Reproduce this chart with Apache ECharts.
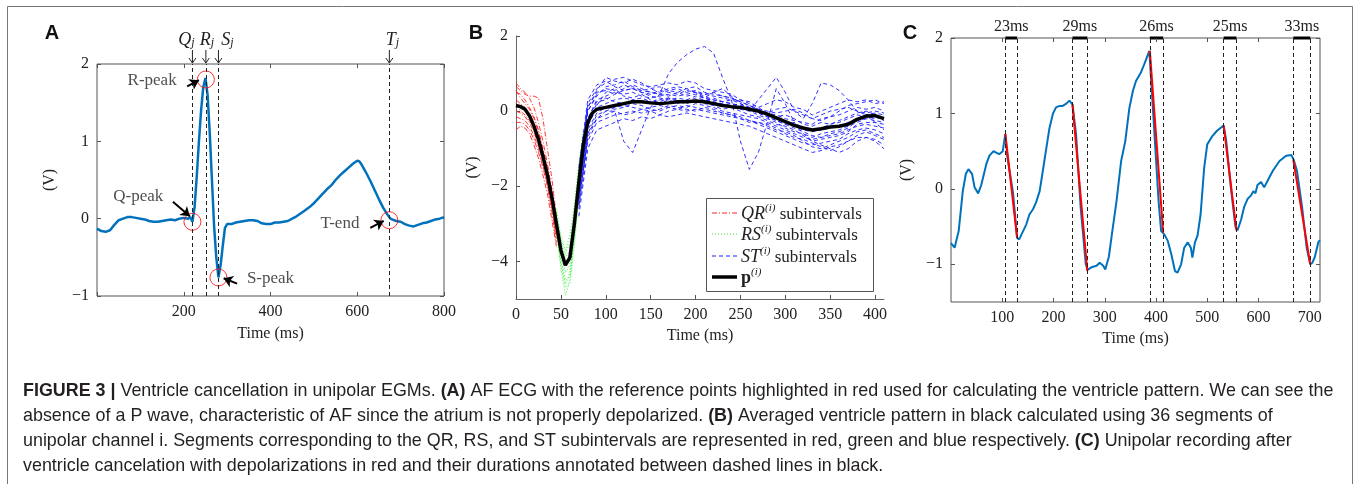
<!DOCTYPE html>
<html>
<head>
<meta charset="utf-8">
<script src="https://cdn.jsdelivr.net/npm/echarts@6/dist/echarts.min.js"></script>
<style>
html, body { margin: 0; padding: 0; background: #fff; }
#chart { width: 1360px; height: 484px; }
</style>
</head>
<body>
<div id="chart"></div>
<script>
// ---------- panel A : AF ECG ----------
var ecgTime = [0,10,20,30,40,50,60,70,80,90,100,110,120,130,140,150,160,170,180,190,200,210,
  215,220,225,230,235,240,245,250,255,260,265,270,275,280,285,290,295,
  300,310,320,330,340,350,360,370,380,390,400,410,420,430,440,450,460,470,480,490,500,510,520,530,540,550,560,570,580,590,600,
  605,610,620,630,640,650,660,670,675,680,690,700,710,720,730,740,750,760,770,780,790,800];
var ecgVolt = [-0.13,-0.16,-0.17,-0.15,-0.08,-0.02,0.0,0.02,0.02,0.01,0.0,-0.01,-0.03,-0.04,-0.04,-0.03,-0.02,-0.01,-0.02,0.0,0.01,0.0,
  0.02,-0.04,0.15,0.55,1.0,1.4,1.7,1.82,1.6,1.1,0.5,-0.1,-0.5,-0.76,-0.6,-0.35,-0.12,
  -0.07,-0.07,-0.05,-0.04,-0.03,-0.02,-0.02,-0.03,-0.06,-0.07,-0.07,-0.05,-0.05,-0.04,-0.03,0.0,0.03,0.07,0.11,0.15,0.2,0.26,0.32,0.38,0.43,0.5,0.56,0.61,0.66,0.71,0.75,
  0.74,0.7,0.6,0.49,0.37,0.25,0.14,0.05,0.01,-0.01,-0.03,-0.04,-0.07,-0.09,-0.1,-0.08,-0.06,-0.05,-0.03,-0.01,0.0,0.02];
var refTimes = [220, 251, 280, 674];          // Q_j R_j S_j T_j
var refNames = ['Q', 'R', 'S', 'T'];
var peakTime = [220, 251, 280, 674];
var peakVolt = [-0.04, 1.8, -0.76, -0.02];

// ---------- panel B : ventricle pattern ----------
var meanTime = [0,5,10,15,20,25,30,35,40,45,50,55,60,65,70,75,80,85,90,
  100,110,120,130,140,150,160,170,180,190,200,210,220,230,240,250,260,270,280,290,300,310,320,330,340,350,360,370,380,390,400,410];
var meanVolt = [0.15,0.12,0.05,-0.12,-0.4,-0.75,-1.2,-1.7,-2.3,-3.0,-3.7,-4.1,-3.9,-3.0,-1.9,-0.9,-0.3,-0.05,0.05,
  0.1,0.15,0.2,0.25,0.25,0.22,0.2,0.22,0.25,0.25,0.27,0.25,0.2,0.15,0.12,0.1,0.05,0.0,-0.08,-0.18,-0.28,-0.38,-0.45,-0.5,-0.47,-0.42,-0.4,-0.35,-0.22,-0.13,-0.12,-0.2];

var qrTime = [0,5,10,15,20,25,30,35,40,45];
var qrTraces = [
  [0.75,0.6,0.5,0.35,0.1,-0.3,-0.8,-1.4,-2.1,-2.9],
  [0.5,0.45,0.3,0.1,-0.15,-0.5,-1.0,-1.5,-2.2,-3.0],
  [0.3,0.2,0.1,-0.1,-0.35,-0.7,-1.1,-1.6,-2.3,-3.2],
  [0.0,-0.05,-0.15,-0.3,-0.55,-0.9,-1.35,-1.85,-2.5,-3.3],
  [-0.3,-0.3,-0.35,-0.5,-0.75,-1.1,-1.5,-2.0,-2.7,-3.5],
  [-0.5,-0.4,-0.45,-0.6,-0.9,-1.25,-1.7,-2.2,-2.9,-3.6],
  [0.65,0.55,0.45,0.4,0.4,0.35,-0.2,-1.0,-1.8,-2.8],
  [0.2,0.0,-0.1,-0.25,-0.45,-0.75,-1.2,-1.75,-2.4,-3.1],
  [0.55,0.35,0.2,0.05,-0.2,-0.55,-1.05,-1.6,-2.3,-3.1],
  [-0.15,-0.2,-0.25,-0.4,-0.65,-1.0,-1.45,-1.95,-2.6,-3.4]
];

var rsTime = [45,50,55,60,65,70,75];
var rsTraces = [
  [-3.0,-4.2,-4.9,-4.5,-3.3,-2.0,-1.0],
  [-3.2,-4.0,-4.6,-4.3,-3.2,-2.1,-1.1],
  [-2.9,-3.7,-4.3,-4.1,-3.1,-1.9,-0.8],
  [-2.7,-3.5,-3.9,-3.7,-2.8,-1.6,-0.7],
  [-3.3,-4.1,-4.7,-4.6,-3.6,-2.3,-1.2],
  [-2.8,-3.4,-3.8,-3.5,-2.6,-1.5,-0.6],
  [-3.1,-3.9,-4.5,-4.4,-3.4,-2.2,-1.1],
  [-2.6,-3.3,-3.7,-3.3,-2.5,-1.4,-0.5]
];

var stTime = [70,80,90,100,110,120,130,140,150,160,170,180,190,200,210,220,230,240,250,260,270,280,290,300,310,320,330,340,350,360,370,380,390,400,410];
var stTraces = [
  [-1.6,0.2,0.6,0.75,0.85,0.9,0.8,0.7,0.65,0.7,0.75,0.7,0.8,0.75,0.6,0.55,0.5,0.45,0.3,0.25,0.1,0.2,0.3,0.25,0.1,0.05,-0.1,0.0,0.1,0.2,0.3,0.25,0.3,0.2,0.25],
  [-1.8,0.0,0.45,0.6,0.55,0.7,0.6,0.55,0.5,0.45,0.55,0.6,0.5,0.55,0.45,0.4,0.35,0.3,0.3,0.2,0.1,-0.05,-0.1,-0.2,-0.25,-0.3,-0.35,-0.2,-0.15,-0.1,0.0,0.1,0.05,0.1,0.0],
  [-2.0,-0.2,0.3,0.4,0.5,0.45,0.5,0.4,0.35,0.4,0.45,0.4,0.45,0.5,0.4,0.3,0.25,0.2,0.15,0.1,0.05,-0.1,-0.2,-0.3,-0.4,-0.5,-0.55,-0.5,-0.45,-0.4,-0.3,-0.2,-0.1,-0.05,-0.1],
  [-2.2,-0.4,0.1,0.2,0.3,0.35,0.3,0.25,0.2,0.3,0.35,0.3,0.25,0.35,0.3,0.25,0.15,0.1,0.05,0.0,-0.1,-0.2,-0.3,-0.45,-0.55,-0.6,-0.7,-0.6,-0.55,-0.5,-0.4,-0.3,-0.2,-0.25,-0.3],
  [-2.4,-0.6,-0.1,0.0,0.1,0.15,0.1,0.05,0.1,0.15,0.1,0.15,0.1,0.2,0.15,0.1,0.0,-0.05,-0.1,-0.15,-0.2,-0.3,-0.4,-0.5,-0.6,-0.7,-0.75,-0.7,-0.65,-0.6,-0.5,-0.4,-0.35,-0.4,-0.45],
  [-2.6,-0.8,-0.3,-0.2,-0.1,-0.05,0.0,-0.05,0.0,-0.1,0.0,0.05,0.0,0.05,0.0,-0.05,-0.1,-0.15,-0.2,-0.25,-0.35,-0.45,-0.55,-0.65,-0.75,-0.85,-0.9,-0.85,-0.8,-0.75,-0.6,-0.5,-0.45,-0.5,-0.6],
  [-1.5,0.3,0.7,0.8,0.65,0.55,0.6,0.5,0.45,0.55,0.5,0.45,0.55,0.5,0.35,0.3,0.25,0.3,0.2,0.1,0.0,-0.1,-0.15,-0.1,-0.2,-0.35,-0.4,-0.3,-0.35,-0.25,-0.15,-0.05,0.0,-0.1,-0.2],
  [-2.1,-0.3,0.2,0.35,0.25,0.2,0.3,0.35,0.25,0.2,0.3,0.2,0.3,0.25,0.2,0.15,0.05,0.1,0.0,-0.1,-0.15,-0.25,-0.35,-0.4,-0.5,-0.65,-0.8,-0.75,-0.7,-0.65,-0.55,-0.35,-0.3,-0.3,-0.35],
  [-2.8,-1.0,-0.5,-0.4,-0.3,-0.2,-0.25,-0.15,-0.2,-0.1,-0.15,-0.1,-0.05,-0.1,-0.15,-0.2,-0.25,-0.3,-0.35,-0.4,-0.5,-0.6,-0.7,-0.8,-0.9,-1.0,-1.1,-1.05,-0.95,-0.9,-0.8,-0.7,-0.7,-0.75,-0.9],
  [-1.7,0.1,0.5,0.55,0.45,0.6,0.7,0.6,0.5,0.45,0.4,0.5,0.4,0.45,0.35,0.25,0.2,0.15,0.2,0.05,-0.05,-0.15,-0.25,-0.35,-0.3,-0.45,-0.5,-0.45,-0.35,-0.3,-0.2,-0.1,-0.15,-0.2,-0.1],
  [-2.3,-0.5,-0.05,0.1,0.05,0.1,0.2,0.15,0.05,0.0,0.1,0.05,0.15,0.1,0.05,0.0,-0.05,-0.1,-0.2,-0.3,-0.3,-0.4,-0.5,-0.55,-0.65,-0.8,-0.95,-1.0,-0.9,-0.8,-0.7,-0.55,-0.5,-0.6,-0.7],
  [-2.0,-0.2,0.25,0.3,0.45,0.55,0.6,0.5,0.4,0.35,0.3,0.35,0.3,0.4,0.35,0.5,0.6,0.4,0.2,0.0,0.3,0.6,0.9,0.5,0.0,-0.2,0.2,0.75,0.7,0.55,0.3,0.0,-0.1,-0.3,-0.5],
  [-2.5,-0.6,-0.2,0.0,0.0,-0.8,-1.1,-0.5,0.1,0.45,1.0,1.3,1.5,1.65,1.72,1.55,0.9,0.3,-0.8,-1.55,-1.1,-0.3,0.6,0.2,-0.3,-0.6,-0.8,-0.9,-1.0,-1.1,-1.0,-0.8,-0.7,-0.8,-1.0],
  [-1.9,0.1,0.55,0.9,0.8,0.75,0.85,0.75,0.6,0.5,0.6,0.65,0.6,0.5,0.45,0.5,0.4,0.35,0.25,0.15,0.05,0.0,-0.05,0.0,0.05,-0.05,-0.2,-0.25,-0.15,0.0,0.15,0.2,0.25,0.3,0.2],
  [-2.2,-0.3,0.15,0.5,0.6,0.4,0.35,0.45,0.3,0.25,0.35,0.25,0.2,0.3,0.25,0.35,0.25,0.2,0.1,0.05,-0.05,-0.15,-0.25,-0.35,-0.45,-0.55,-0.65,-0.7,-0.6,-0.55,-0.45,-0.25,-0.2,-0.15,-0.25],
  [-2.5,-0.7,-0.2,-0.1,0.0,-0.1,-0.05,0.05,0.0,0.05,0.15,0.1,0.05,0.0,0.1,0.05,-0.05,-0.1,-0.15,-0.25,-0.3,-0.35,-0.45,-0.6,-0.7,-0.75,-0.85,-0.95,-1.05,-0.95,-0.8,-0.65,-0.55,-0.65,-0.75],
  [-1.8,0.0,0.4,0.65,0.7,0.8,0.65,0.55,0.6,0.65,0.55,0.5,0.6,0.65,0.5,0.45,0.4,0.35,0.25,0.15,0.05,-0.05,0.05,0.1,0.0,-0.1,-0.2,-0.1,0.0,0.05,0.1,0.0,-0.05,0.0,-0.05]
];

// ---------- panel C : after ventricle cancellation ----------
var cTime = [0,7,15,23,29,34,41,46,53,59,69,75,83,88,94,101,106,110,113,121,129,133,140,147,153,160,166,173,179,186,192,199,205,212,218,225,231,237,
  244,253,263,267,274,284,290,297,301,308,314,323,332,340,348,355,361,371,377,387,397,405,410,416,423,430,437,442,449,455,462,468,471,476,481,487,
  494,500,510,519,532,537,546,555,559,566,572,579,585,590,594,598,605,611,618,628,641,654,664,669,675,685,694,701,705,710,717,720];
var cVolt = [-0.72,-0.78,-0.56,-0.03,0.2,0.26,0.2,0.02,-0.06,0.05,0.33,0.44,0.5,0.48,0.46,0.5,0.73,0.42,0.4,-0.05,-0.65,-0.67,-0.57,-0.47,-0.34,-0.27,-0.18,-0.03,0.23,0.54,0.8,1.0,1.08,1.1,1.1,1.13,1.17,1.12,
  0.73,-0.25,-1.0,-1.07,-1.04,-1.02,-0.98,-1.02,-1.07,-0.9,-0.6,-0.16,0.37,0.63,1.07,1.3,1.43,1.55,1.65,1.83,0.73,-0.16,-0.56,-0.6,-0.69,-0.87,-1.09,-1.11,-1.0,-0.78,-0.71,-0.78,-0.91,-0.71,-0.62,-0.34,
  0.28,0.59,0.7,0.77,0.84,0.64,0.02,-0.5,-0.55,-0.41,-0.24,-0.13,-0.09,-0.03,-0.06,0.05,0.09,0.02,0.11,0.24,0.37,0.44,0.45,0.38,0.24,-0.24,-0.78,-1.0,-0.98,-0.9,-0.7,-0.68];
var depStart = [106, 237, 388, 532, 668];
var depEnd = [129, 266, 414, 557, 701];
var depStartV = [0.73, 1.12, 1.83, 0.84, 0.38];
var depEndV = [-0.65, -1.09, -0.58, -0.55, -1.0];
var depLabels = ['23ms', '29ms', '26ms', '25ms', '33ms'];

var serif = "'Liberation Serif', 'DejaVu Serif', serif";
var sans = "'Liberation Sans', Arial, sans-serif";
var ink = '#222';
var ecgBlue = '#0072bd';

function pairs(xs, ys) {
  var out = [];
  for (var i = 0; i < xs.length; i++) {
    if (ys[i] !== undefined) out.push([xs[i], ys[i]]);
  }
  return out;
}
function minus(v) { return v < 0 ? '\u2212' + Math.abs(v) : '' + v; }

var tickStyle = { inside: true, length: 4, lineStyle: { color: '#555', width: 1 } };
var labStyle = { fontFamily: serif, fontSize: 16, color: ink };
var nameStyle = { fontFamily: serif, fontSize: 16, color: ink };

function axis(grid, pos, min, max, o) {
  var a = {
    gridIndex: grid, type: 'value', position: pos, min: min, max: max,
    axisLine: { show: false, onZero: false }, splitLine: { show: false },
    axisTick: Object.assign({}, tickStyle),
    axisLabel: Object.assign({ margin: 8, formatter: function (v) { return minus(v); } }, labStyle)
  };
  if (o.interval) a.interval = o.interval;
  if (o.ticks) { a.axisTick.customValues = o.ticks; a.axisLabel.customValues = o.ticks; }
  if (o.hideLabels) a.axisLabel.show = false;
  if (o.hideZero) a.axisLabel.formatter = function (v) { return v === 0 ? '' : minus(v); };
  if (o.line) a.axisLine = { show: true, onZero: false, lineStyle: { color: '#666', width: 1 } };
  if (o.name) {
    a.name = o.name; a.nameLocation = 'middle'; a.nameGap = o.nameGap; a.nameTextStyle = nameStyle;
  }
  return a;
}

var series = [];

// A
series.push({
  type: 'line', xAxisIndex: 0, yAxisIndex: 0, data: pairs(ecgTime, ecgVolt), showSymbol: false,
  lineStyle: { color: ecgBlue, width: 2.5 }, z: 3,
  markLine: {
    silent: true, symbol: ['none', 'none'], label: { show: false },
    lineStyle: { color: ink, type: [4, 3], width: 1 },
    data: refTimes.map(function (t) { return { xAxis: t }; })
  }
});
series.push({
  type: 'scatter', xAxisIndex: 0, yAxisIndex: 0, data: pairs(peakTime, peakVolt), symbolSize: 17, z: 4,
  itemStyle: { color: 'rgba(0,0,0,0)', borderColor: '#ff0000', borderWidth: 1 },
  markLine: {
    silent: true, symbol: ['none', 'arrow'], symbolSize: 9, label: { show: false },
    lineStyle: { color: '#000', type: 'solid', width: 2 },
    data: [
      [{ coord: [208, 1.71] }, { coord: [235, 1.79] }],
      [{ coord: [175, 0.22] }, { coord: [214, 0.03] }],
      [{ coord: [323, -0.84] }, { coord: [292, -0.77] }],
      [{ coord: [630, -0.12] }, { coord: [661, -0.03] }]
    ]
  }
});
series.push({
  type: 'scatter', xAxisIndex: 0, yAxisIndex: 0, symbolSize: 1, z: 5,
  itemStyle: { color: 'rgba(0,0,0,0)' },
  label: { show: true, position: 'inside', formatter: '{b}', fontFamily: serif, fontSize: 17, color: ink },
  data: [
    { name: 'R-peak', value: [127, 1.78] },
    { name: 'Q-peak', value: [95, 0.29] },
    { name: 'S-peak', value: [400, -0.77] },
    { name: 'T-end', value: [560, -0.06] }
  ]
});

// B
qrTraces.forEach(function (tr) {
  series.push({ type: 'line', xAxisIndex: 2, yAxisIndex: 2, data: pairs(qrTime, tr), showSymbol: false, z: 2,
    lineStyle: { color: '#ff2020', width: 0.9, type: [5, 2, 1, 2] } });
});
rsTraces.forEach(function (tr) {
  series.push({ type: 'line', xAxisIndex: 2, yAxisIndex: 2, data: pairs(rsTime, tr), showSymbol: false, z: 2,
    lineStyle: { color: '#33ee33', width: 0.9, type: [1, 2] } });
});
stTraces.forEach(function (tr) {
  series.push({ type: 'line', xAxisIndex: 2, yAxisIndex: 2, data: pairs(stTime, tr), showSymbol: false, z: 2,
    lineStyle: { color: '#1a1aff', width: 0.9, type: [4, 3] } });
});
series.push({ type: 'line', xAxisIndex: 2, yAxisIndex: 2, data: pairs(meanTime, meanVolt), showSymbol: false, z: 4,
  lineStyle: { color: '#000', width: 3.5 } });

// C
var cuts = [];
depStart.forEach(function (s, i) { cuts.push({ xAxis: s }); cuts.push({ xAxis: depEnd[i] }); });
series.push({
  type: 'line', xAxisIndex: 3, yAxisIndex: 3, data: pairs(cTime, cVolt), showSymbol: false, z: 3,
  lineStyle: { color: ecgBlue, width: 2 },
  markLine: {
    silent: true, symbol: ['none', 'none'], label: { show: false },
    lineStyle: { color: ink, type: [4, 3], width: 1 }, data: cuts
  }
});
depStart.forEach(function (s, i) {
  series.push({ type: 'line', xAxisIndex: 3, yAxisIndex: 3, showSymbol: false, z: 4,
    data: [[s, depStartV[i]], [depEnd[i], depEndV[i]]],
    lineStyle: { color: '#ff0000', width: 2 } });
});

var option = {
  animation: false,
  textStyle: { fontFamily: serif },
  grid: [
    { left: 97, top: 64, width: 347, height: 232, show: true, borderColor: '#555', borderWidth: 1, outerBoundsMode: 'none' },
    { left: 516, top: 36, width: 368, height: 263, outerBoundsMode: 'none' },
    { left: 951, top: 38, width: 369, height: 264, show: true, borderColor: '#555', borderWidth: 1, outerBoundsMode: 'none' }
  ],
  xAxis: [
    axis(0, 'bottom', 0, 800, { interval: 200, hideZero: true, name: 'Time (ms)', nameGap: 30 }),
    axis(0, 'top', 0, 800, { interval: 200, hideLabels: true }),
    axis(1, 'bottom', 0, 410, { ticks: [0, 50, 100, 150, 200, 250, 300, 350, 400], line: true, name: 'Time (ms)', nameGap: 27 }),
    axis(2, 'bottom', 0, 720, { ticks: [100, 200, 300, 400, 500, 600, 700], name: 'Time (ms)', nameGap: 27 }),
    axis(2, 'top', 0, 720, { ticks: [100, 200, 300, 400, 500, 600, 700], hideLabels: true })
  ],
  yAxis: [
    axis(0, 'left', -1, 2, { interval: 1, name: '(V)', nameGap: 39 }),
    axis(0, 'right', -1, 2, { interval: 1, hideLabels: true }),
    axis(1, 'left', -5, 2, { ticks: [-4, -2, 0, 2], line: true, name: '(V)', nameGap: 35 }),
    axis(2, 'left', -1.5, 2, { ticks: [-1, 0, 1, 2], name: '(V)', nameGap: 36 }),
    axis(2, 'right', -1.5, 2, { ticks: [-1, 0, 1, 2], hideLabels: true })
  ],
  series: series
};

var chart = echarts.init(document.getElementById('chart'));
chart.setOption(option);

// decorations placed through the axes' own scales
var mathRich = {
  m: { fontFamily: serif, fontStyle: 'italic', fontSize: 18, lineHeight: 20, verticalAlign: 'bottom', fill: ink },
  s: { fontFamily: serif, fontStyle: 'italic', fontSize: 12, lineHeight: 11, verticalAlign: 'bottom', fill: ink },
  u: { fontFamily: serif, fontStyle: 'italic', fontSize: 11, lineHeight: 11, verticalAlign: 'top', fill: ink },
  t: { fontFamily: serif, fontSize: 17, lineHeight: 20, verticalAlign: 'bottom', fill: ink },
  p: { fontFamily: serif, fontWeight: 'bold', fontSize: 18, lineHeight: 20, verticalAlign: 'bottom', fill: ink }
};
var g = [];
g.push({ type: 'rect', silent: true, shape: { x: 7.5, y: 6.5, width: 1345, height: 540 },
  style: { fill: 'none', stroke: '#777', lineWidth: 1 } });
[['A', 52], ['B', 476], ['C', 910]].forEach(function (l) {
  g.push({ type: 'text', x: l[1], y: 33, style: { text: l[0], font: 'bold 20px ' + sans, fill: '#111', align: 'center', verticalAlign: 'middle' } });
});

// top arrows and labels of panel A
var labelShift = [-6, 1, 9, 3];
refTimes.forEach(function (t, i) {
  var p = chart.convertToPixel({ xAxisIndex: 0, yAxisIndex: 0 }, [t, 2]);
  g.push({ type: 'line', silent: true, shape: { x1: p[0], y1: p[1] - 14, x2: p[0], y2: p[1] - 1 }, style: { stroke: ink, lineWidth: 1 } });
  g.push({ type: 'polyline', silent: true, shape: { points: [[p[0] - 3.5, p[1] - 6], [p[0], p[1] - 1], [p[0] + 3.5, p[1] - 6]] },
    style: { stroke: ink, fill: 'none', lineWidth: 1 } });
  g.push({ type: 'text', x: p[0] + labelShift[i], y: p[1] - 25,
    style: { text: '{m|' + refNames[i] + '}{s|j}', rich: mathRich, align: 'center', verticalAlign: 'middle' } });
});

// duration bars of panel C
depStart.forEach(function (s, i) {
  var a = chart.convertToPixel({ xAxisIndex: 3, yAxisIndex: 3 }, [s, 2]);
  var b = chart.convertToPixel({ xAxisIndex: 3, yAxisIndex: 3 }, [depEnd[i], 2]);
  g.push({ type: 'line', silent: true, shape: { x1: a[0], y1: a[1], x2: b[0], y2: b[1] }, style: { stroke: '#000', lineWidth: 3 } });
  g.push({ type: 'text', x: (a[0] + b[0]) / 2, y: a[1] - 11, style: { text: depLabels[i], font: '16px ' + serif, fill: ink, align: 'center', verticalAlign: 'middle' } });
});

// legend of panel B
g.push({ type: 'rect', silent: true, shape: { x: 706.5, y: 198.5, width: 167, height: 93 }, style: { fill: '#fff', stroke: '#555', lineWidth: 1 }, z: 10 });
var legRows = [
  { y: 213, color: '#ff2020', dash: [5, 2, 1, 2], w: 1, text: '{m|QR}{u|(i)}{t| subintervals}' },
  { y: 234, color: '#33ee33', dash: [1, 2], w: 1, text: '{m|RS}{u|(i)}{t| subintervals}' },
  { y: 256, color: '#1a1aff', dash: [4, 3], w: 1, text: '{m|ST}{u|(i)}{t| subintervals}' },
  { y: 277, color: '#000', dash: null, w: 3.5, text: '{p|p}{u|(i)}' }
];
legRows.forEach(function (r) {
  g.push({ type: 'line', silent: true, z: 11, shape: { x1: 712, y1: r.y, x2: 737, y2: r.y },
    style: { stroke: r.color, lineWidth: r.w, lineDash: r.dash } });
  g.push({ type: 'text', z: 11, x: 741, y: r.y, style: { text: r.text, rich: mathRich, align: 'left', verticalAlign: 'middle' } });
});

// caption, sized so that its first line spans the width of the figure
var capLines = [
  [['b', 'FIGURE 3 |'], ['n', ' Ventricle cancellation in unipolar EGMs. '], ['b', '(A)'], ['n', ' AF ECG with the reference points highlighted in red used for calculating the ventricle pattern. We can see the']],
  [['n', 'absence of a P wave, characteristic of AF since the atrium is not properly depolarized. '], ['b', '(B)'], ['n', ' Averaged ventricle pattern in black calculated using 36 segments of']],
  [['n', 'unipolar channel i. Segments corresponding to the QR, RS, and ST subintervals are represented in red, green and blue respectively. '], ['b', '(C)'], ['n', ' Unipolar recording after']],
  [['n', 'ventricle cancelation with depolarizations in red and their durations annotated between dashed lines in black.']]
];
var ctx = document.createElement('canvas').getContext('2d');
var w15 = 0;
capLines[0].forEach(function (seg) {
  ctx.font = (seg[0] === 'b' ? 'bold ' : '') + '15px ' + sans;
  w15 += ctx.measureText(seg[1]).width;
});
var capSize = Math.round(15 * 1314 / w15 * 10) / 10;
var capRich = {
  n: { fontFamily: sans, fontSize: capSize, fill: '#231f20' },
  b: { fontFamily: sans, fontSize: capSize, fontWeight: 'bold', fill: '#231f20' }
};
capLines.forEach(function (segs, i) {
  var t = segs.map(function (s) { return '{' + s[0] + '|' + s[1] + '}'; }).join('');
  g.push({ type: 'text', x: 23, y: 391 + i * 25, style: { text: t, rich: capRich, align: 'left', verticalAlign: 'middle' } });
});

chart.setOption({ graphic: g });
</script>
</body>
</html>
